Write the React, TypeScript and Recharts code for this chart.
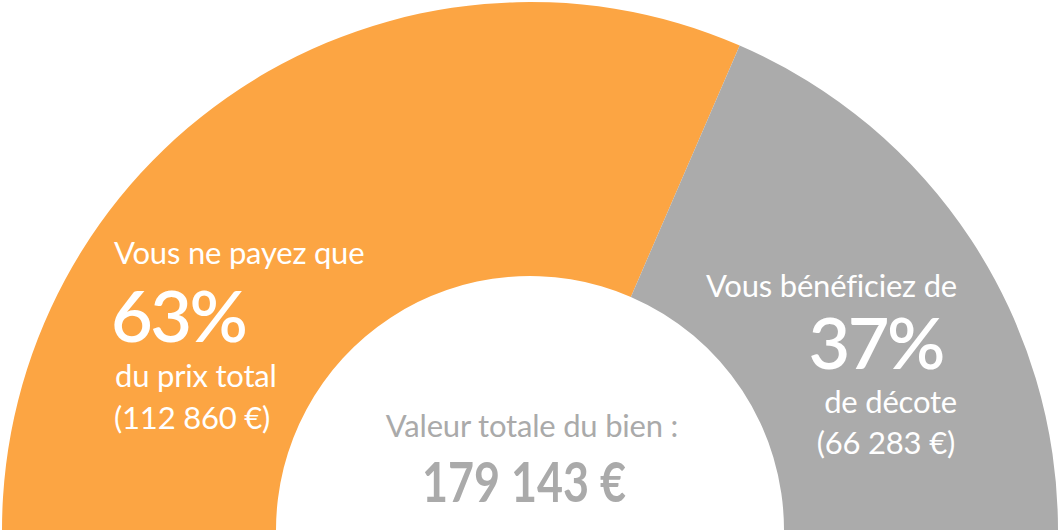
import { PieChart, Pie, Cell } from "recharts";

const segments = ["Vous ne payez que", "Vous bénéficiez de"];
const amounts = [112860, 66283];
const colors = ["#FCA543", "#ABABAB"];
const percents = ["63%", "37%"];
const subLabels = ["du prix total", "de décote"];
const amountLabels = ["(112 860 €)", "(66 283 €)"];
const totalLabel = "Valeur totale du bien :";
const totalValue = "179 143 €";

const data = segments.map((name, i) => ({ name, value: amounts[i] }));

const font = "Lato, 'Open Sans', sans-serif";
const small = { fontSize: 31, fontWeight: 400, letterSpacing: -0.2 };
const big = { fontSize: 72, fontWeight: 600, letterSpacing: -2.5 };

// text blocks drawn on top of each slice
function SliceLabel(props: any) {
  const { cx, cy, index } = props;
  if (index === 0) {
    return (
      <g fontFamily={font} fill="#fff">
        <text x={cx - 416} y={cy - 266} {...small}>{segments[0]}</text>
        <text x={cx - 419} y={cy - 188} {...big}>{percents[0]}</text>
        <text x={cx - 415} y={cy - 143} {...small}>{subLabels[0]}</text>
        <text x={cx - 416} y={cy - 101} {...small}>{amountLabels[0]}</text>
      </g>
    );
  }
  return (
    <g fontFamily={font} fill="#fff" textAnchor="end">
      <text x={cx + 427} y={cy - 233} {...small}>{segments[1]}</text>
      <text x={cx + 413} y={cy - 161} {...big}>{percents[1]}</text>
      <text x={cx + 427} y={cy - 117} {...small}>{subLabels[1]}</text>
      <text x={cx + 425} y={cy - 76} {...small}>{amountLabels[1]}</text>
    </g>
  );
}

export default function App() {
  return (
    <div style={{ position: "absolute", left: 0, top: 0, width: 1061, height: 530, background: "#fff" }}>
      <PieChart width={1061} height={530} margin={{ top: 0, right: 0, bottom: 0, left: 0 }}>
        <Pie
          data={data}
          dataKey="value"
          cx={530}
          cy={530}
          startAngle={180}
          endAngle={0}
          innerRadius={254}
          outerRadius={528}
          stroke="none"
          label={SliceLabel}
          labelLine={false}
          isAnimationActive={false}
        >
          {data.map((d, i) => (
            <Cell key={d.name} fill={colors[i]} />
          ))}
        </Pie>
        <g fontFamily={font} fill="#AAAAAA" textAnchor="middle">
          <text x={532} y={437} {...small}>{totalLabel}</text>
          <text x={524} y={502} fontSize={56} fontWeight={700} textLength={204} lengthAdjust="spacingAndGlyphs">
            {totalValue}
          </text>
        </g>
      </PieChart>
    </div>
  );
}
